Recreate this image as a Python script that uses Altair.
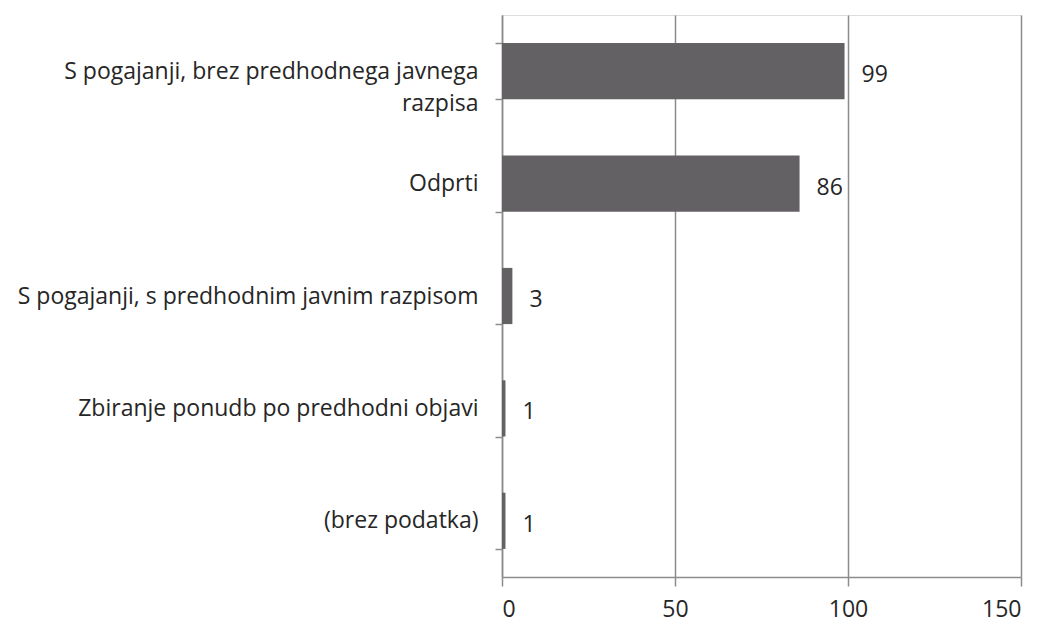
import altair as alt
import pandas as pd

categories = [
    "S pogajanji, brez predhodnega javnega razpisa",
    "Odprti",
    "S pogajanji, s predhodnim javnim razpisom",
    "Zbiranje ponudb po predhodni objavi",
    "(brez podatka)",
]
values = [99, 86, 3, 1, 1]
x_ticks = [0, 50, 100, 150]

df = pd.DataFrame({"cat": categories, "val": values})

FONT = "Open Sans"
FS = 23
GRID = "#8c8c8c"
TXT = "#262626"

label_expr = (
    "datum.label == 'S pogajanji, brez predhodnega javnega razpisa' ? "
    "['S pogajanji, brez predhodnega javnega', 'razpisa'] : datum.label"
)

y = alt.Y(
    "cat:N",
    sort=None,
    scale=alt.Scale(paddingInner=0.5, paddingOuter=0.25),
    axis=alt.Axis(
        title=None,
        domainColor=GRID,
        domainWidth=1.5,
        tickColor=GRID,
        tickWidth=1.5,
        tickSize=7,
        tickBand="extent",
        labelFont=FONT,
        labelFontSize=FS,
        labelColor=TXT,
        labelPadding=17,
        labelLimit=500,
        labelLineHeight=32,
        labelExpr=label_expr,
        grid=False,
    ),
)

x = alt.X(
    "val:Q",
    scale=alt.Scale(domain=[0, 150], nice=False),
    axis=alt.Axis(
        title=None,
        values=x_ticks,
        domainColor=GRID,
        domainWidth=1.5,
        tickColor=GRID,
        tickWidth=1.5,
        tickSize=9,
        grid=True,
        gridColor=GRID,
        gridWidth=1.5,
        labelFont=FONT,
        labelFontSize=FS,
        labelColor=TXT,
        labelPadding=12,
    ),
)

bars = alt.Chart(df).mark_bar(color="#636163").encode(x=x, y=y)
labels = alt.Chart(df).mark_text(
    align="left", baseline="middle", dx=17, dy=4, font=FONT, fontSize=FS, color=TXT
).encode(x="val:Q", y=alt.Y("cat:N", sort=None), text="val:Q")

chart = (
    alt.layer(bars, labels)
    .properties(
        width=519,
        height=562,
        autosize=alt.AutoSizeParams(type="none"),
        padding={"left": 494, "top": 7, "right": 22, "bottom": 48},
    )
    .configure_view(stroke=None)
    .configure(background="white")
)

chart.save("out.html", embed_options={"renderer": "svg", "actions": False})
